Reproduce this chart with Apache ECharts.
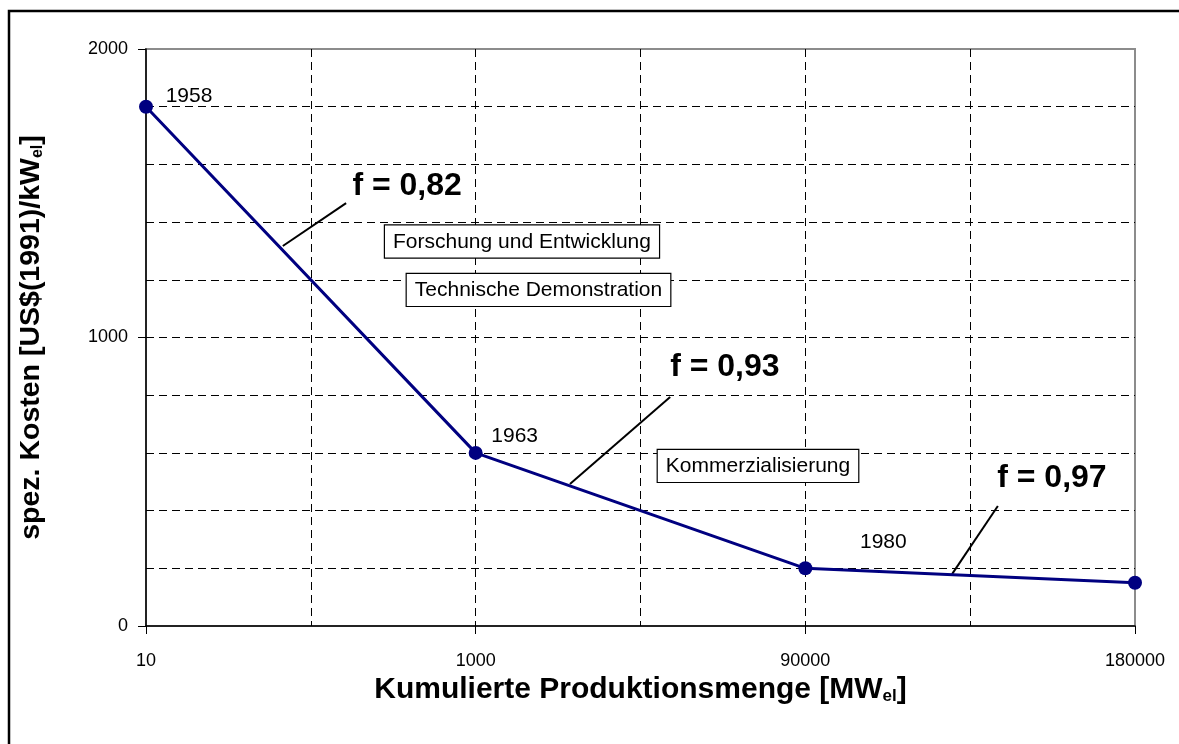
<!DOCTYPE html>
<html>
<head>
<meta charset="utf-8">
<script src="https://cdn.jsdelivr.net/npm/echarts@6/dist/echarts.min.js"></script>
<style>html,body{margin:0;padding:0;background:#fff}#c{width:1179px;height:744px}</style>
</head>
<body>
<div id="c"></div>
<script>
// Data
const categories = ['10', '1000', '90000', '180000'];
const costs = [1800, 600, 200, 150];
const years = ['1958', '1963', '1980', ''];
const yearOffsets = [[43, -10], [39, -17], [78, -26], [0, 0]];
const yTickLabels = [0, 1000, 2000];

// Annotations (data coordinates: x = category index, y = cost)
const fLabels = ['f = 0,82', 'f = 0,93', 'f = 0,97'];
const fLabelPos = [[0.792, 1525], [1.756, 898], [2.748, 513]];
const leaderLines = [
  [[0.415, 1317], [0.607, 1466]],
  [[1.286, 492], [1.590, 794]],
  [[2.445, 180], [2.584, 416]]
];
const phaseLabels = ['Forschung und Entwicklung', 'Technische Demonstration', 'Kommerzialisierung'];
const phasePos = [[1.1405, 1333], [1.1906, 1165], [1.8564, 555]];

const FONT = 'Liberation Sans, Arial, sans-serif';
const chart = echarts.init(document.getElementById('c'));

const dashed = { color: '#000', width: 1, type: [8, 5] };

chart.setOption({
  animation: false,
  backgroundColor: '#fff',
  textStyle: { fontFamily: FONT, color: '#000' },
  grid: { left: 146, right: 44, top: 49, bottom: 118, show: true, borderColor: '#8c8c8c', borderWidth: 2 },
  graphic: [{
    type: 'rect', silent: true, z: 100,
    shape: { x: 9, y: 11, width: 1400, height: 1000 },
    style: { fill: null, stroke: '#000', lineWidth: 2.5 }
  }],
  xAxis: {
    type: 'value', min: 0, max: categories.length - 1, interval: 1,
    axisLine: { lineStyle: { color: '#000', width: 1.5 } },
    axisTick: { show: true, length: 8, lineStyle: { color: '#000' } },
    axisLabel: {
      margin: 26, fontSize: 18, color: '#000', fontFamily: FONT,
      formatter: v => (Number.isInteger(v) ? categories[v] : '')
    },
    splitLine: { show: true, showMinLine: false, showMaxLine: false, lineStyle: dashed },
    minorTick: { show: false, splitNumber: 2 },
    minorSplitLine: { show: true, lineStyle: dashed },
    name: '{t|Kumulierte Produktionsmenge [MW}{s|el}{t|]}',
    nameLocation: 'middle', nameGap: 48,
    nameTextStyle: {
      rich: {
        t: { fontSize: 30, fontWeight: 'bold', color: '#000', fontFamily: FONT },
        s: { fontSize: 17, fontWeight: 'bold', color: '#000', fontFamily: FONT, padding: [13, 0, 0, 0] }
      }
    }
  },
  yAxis: {
    type: 'value', min: 0, max: 2000, interval: 1000,
    axisLine: { show: true, lineStyle: { color: '#000', width: 1.5 } },
    axisTick: { show: true, length: 8, lineStyle: { color: '#000' } },
    axisLabel: {
      margin: 18, fontSize: 18, color: '#000', fontFamily: FONT,
      formatter: v => (yTickLabels.includes(v) ? String(v) : '')
    },
    splitLine: { show: true, showMinLine: false, showMaxLine: false, lineStyle: dashed },
    minorTick: { show: false, splitNumber: 5 },
    minorSplitLine: { show: true, lineStyle: dashed },
    name: '{t|spez. Kosten [US$(1991)/kW}{s|el}{t|]}',
    nameLocation: 'middle', nameGap: 100, nameRotate: 90,
    nameTextStyle: {
      rich: {
        t: { fontSize: 28.5, fontWeight: 'bold', color: '#000', fontFamily: FONT },
        s: { fontSize: 16, fontWeight: 'bold', color: '#000', fontFamily: FONT, padding: [12, 0, 0, 0] }
      }
    }
  },
  series: [
    {
      type: 'line', z: 5,
      data: costs.map((v, i) => ({
        value: [i, v],
        label: {
          show: years[i] !== '', formatter: '{y|' + years[i] + '}', position: 'inside',
          offset: yearOffsets[i],
          rich: { y: { fontSize: 21, color: '#000', fontFamily: FONT } }
        }
      })),
      symbol: 'circle', symbolSize: 14,
      itemStyle: { color: '#000080', opacity: 1 },
      lineStyle: { color: '#000080', width: 3 },
      markLine: {
        silent: true, symbol: 'none', animation: false,
        label: { show: false },
        lineStyle: { color: '#000', width: 2, type: 'solid', opacity: 1 },
        data: leaderLines.map(l => [{ coord: l[0] }, { coord: l[1] }])
      }
    },
    {
      type: 'scatter', z: 6, symbolSize: 0, silent: true,
      itemStyle: { opacity: 1 },
      data: fLabels.map((t, i) => ({ value: fLabelPos[i], name: t })),
      label: {
        show: true, position: 'inside', formatter: p => '{f|' + p.name + '}',
        rich: { f: { fontSize: 32, fontWeight: 'bold', color: '#000', fontFamily: FONT } }
      }
    },
    {
      type: 'scatter', z: 6, symbolSize: 0, silent: true,
      itemStyle: { opacity: 1 },
      data: phaseLabels.map((t, i) => ({ value: phasePos[i], name: t })),
      label: {
        show: true, position: 'inside', formatter: p => '{b|' + p.name + '}',
        rich: { b: { fontSize: 21, color: '#000', fontFamily: FONT } },
        backgroundColor: '#fff', borderColor: '#000', borderWidth: 1.2,
        padding: [6, 8, 5, 8]
      }
    }
  ]
});
</script>
</body>
</html>
